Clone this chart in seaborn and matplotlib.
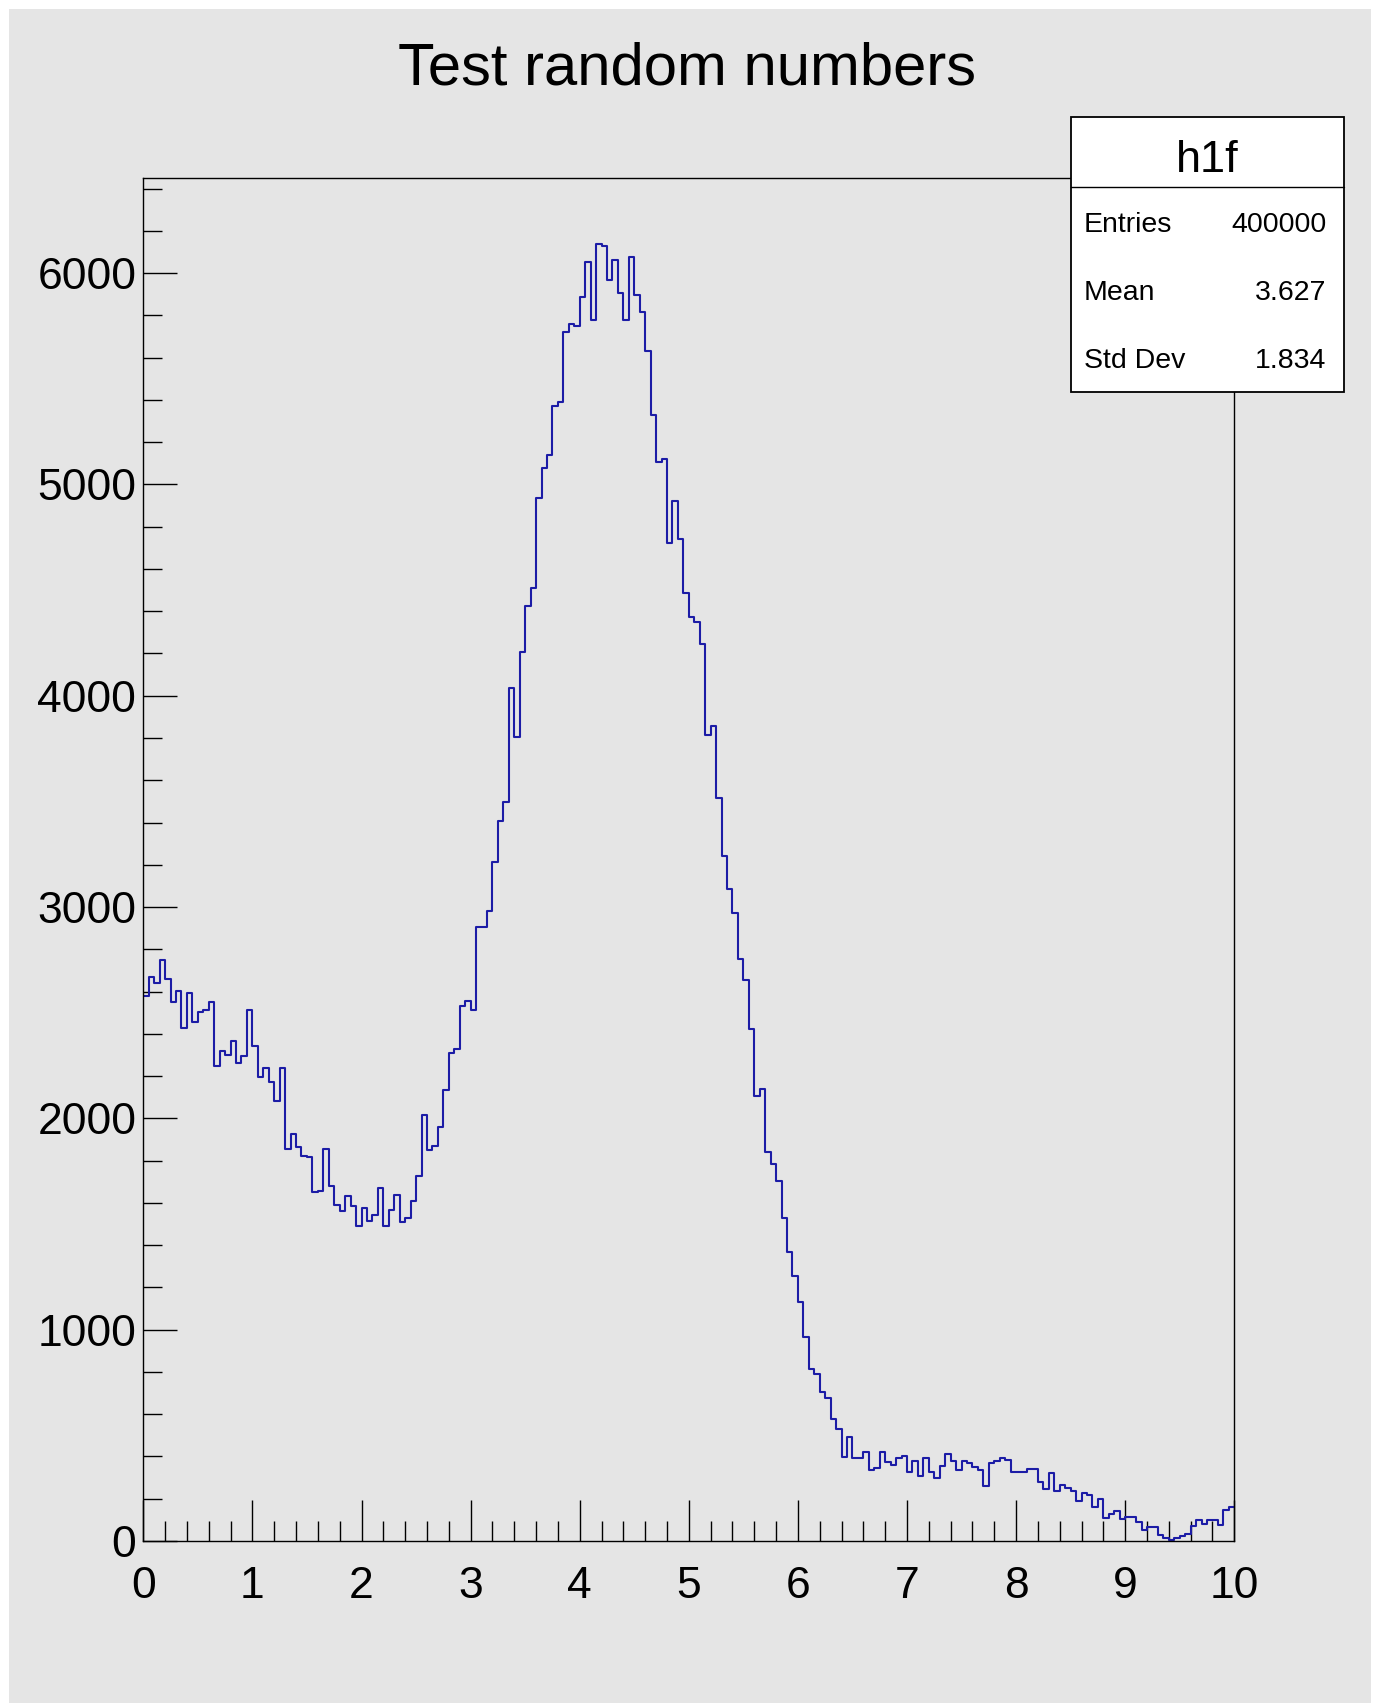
import numpy as np
import pandas as pd
import matplotlib
matplotlib.use("Agg")
import matplotlib.pyplot as plt
from matplotlib.patches import Rectangle
from matplotlib.lines import Line2D
from matplotlib.ticker import MultipleLocator
import seaborn as sns

sns.set_theme(style="white")
plt.rcParams["font.family"] = ["Liberation Sans", "DejaVu Sans"]

# histogram h1f: 200 bins on [0, 10], counts
x_min = 0.0
x_max = 10.0
n_bins = 200
counts = [
    2577, 2669, 2642, 2750, 2658, 2550, 2603, 2428, 2594, 2458,
    2505, 2514, 2550, 2247, 2319, 2302, 2366, 2264, 2294, 2512,
    2341, 2194, 2239, 2173, 2083, 2239, 1853, 1927, 1863, 1822,
    1817, 1650, 1658, 1853, 1680, 1591, 1561, 1634, 1583, 1493,
    1575, 1512, 1544, 1672, 1489, 1565, 1635, 1509, 1527, 1609,
    1728, 2014, 1848, 1867, 1960, 2135, 2311, 2327, 2532, 2557,
    2513, 2906, 2906, 2983, 3215, 3405, 3497, 4035, 3805, 4208,
    4423, 4512, 4936, 5076, 5141, 5373, 5390, 5722, 5759, 5750,
    5889, 6052, 5776, 6137, 6127, 5968, 6063, 5907, 5776, 6074,
    5897, 5814, 5629, 5327, 5106, 5122, 4725, 4920, 4744, 4486,
    4374, 4348, 4246, 3813, 3856, 3516, 3243, 3084, 2973, 2752,
    2654, 2421, 2105, 2137, 1842, 1784, 1702, 1527, 1368, 1254,
    1129, 965, 816, 789, 703, 676, 575, 529, 399, 493,
    391, 391, 419, 336, 347, 419, 375, 362, 391, 400,
    328, 380, 309, 391, 328, 296, 354, 410, 380, 336,
    380, 370, 351, 336, 262, 370, 380, 391, 383, 328,
    328, 328, 343, 343, 280, 244, 320, 236, 265, 249,
    238, 189, 228, 217, 159, 197, 107, 128, 143, 102,
    115, 115, 91, 52, 68, 68, 28, 13, 5, 15,
    24, 31, 71, 99, 80, 99, 99, 78, 147, 162,
]

hist_name = "h1f"
title = "Test random numbers"
stat_names = ["Entries", "Mean", "Std Dev"]
stat_values = ["400000", "3.627", "1.834"]

W, H = 1375, 1703
GREY = "#e5e5e5"
LINE = "#1c1ca6"


def fx(px):
    return px / W


def fy(py):
    return 1 - py / H


fig = plt.figure(figsize=(W / 100, H / 100), dpi=100, facecolor="white")
fig.add_artist(Rectangle((fx(9), 0), fx(1371) - fx(9), fy(9), transform=fig.transFigure,
                         facecolor=GREY, edgecolor="none", zorder=-5))

ax = fig.add_axes([fx(143.3), fy(1541), fx(1234.3) - fx(143.3), fy(178) - fy(1541)])
ax.set_facecolor(GREY)

edges = np.linspace(x_min, x_max, n_bins + 1)
df = pd.DataFrame({"x": (edges[:-1] + edges[1:]) / 2, "n": counts})
sns.histplot(data=df, x="x", weights="n", bins=n_bins, binrange=(x_min, x_max),
             element="step", fill=False, color=LINE, linewidth=1.5, ax=ax)

ax.set_xlim(x_min, x_max)
ax.set_ylim(0, 6450)
ax.set_xlabel("")
ax.set_ylabel("")

for s in ax.spines.values():
    s.set_color("black")
    s.set_linewidth(1.0)

ax.xaxis.set_major_locator(MultipleLocator(1))
ax.xaxis.set_minor_locator(MultipleLocator(0.2))
ax.yaxis.set_major_locator(MultipleLocator(1000))
ax.yaxis.set_minor_locator(MultipleLocator(200))

ax.tick_params(axis="x", which="major", direction="in", length=29.5, width=1.0,
               bottom=True, top=False, color="black", labelcolor="black",
               labelsize=32, pad=18)
ax.tick_params(axis="x", which="minor", direction="in", length=14.4, width=1.0,
               bottom=True, top=False, color="black")
ax.tick_params(axis="y", which="major", direction="in", length=24.5, width=1.0,
               left=True, right=False, color="black", labelcolor="black",
               labelsize=32, pad=5)
ax.tick_params(axis="y", which="minor", direction="in", length=13.7, width=1.0,
               left=True, right=False, color="black")

fig.text(0.5, fy(84.7), title, ha="center", va="baseline", fontsize=43, color="black")

# stats box
bx0, bx1, by0, by1 = 1070.7, 1344, 117.3, 391.7
fig.add_artist(Rectangle((fx(bx0), fy(by1)), fx(bx1) - fx(bx0), fy(by0) - fy(by1),
                         transform=fig.transFigure, facecolor="white",
                         edgecolor="black", linewidth=1.3, zorder=5))
fig.add_artist(Line2D([fx(bx0), fx(bx1)], [fy(186.7), fy(186.7)],
                      transform=fig.transFigure, color="black", linewidth=1.0, zorder=6))
fig.text(fx(1207), fy(171.7), hist_name, ha="center", va="baseline",
         fontsize=32.5, color="black", zorder=7)
for name, val, base in zip(stat_names, stat_values, [231.7, 300, 368.3]):
    fig.text(fx(1084), fy(base), name, ha="left", va="baseline",
             fontsize=20.5, color="black", zorder=7)
    fig.text(fx(1326.7), fy(base), val, ha="right", va="baseline",
             fontsize=20.5, color="black", zorder=7)

fig.savefig("out.png", dpi=100, facecolor="white")
